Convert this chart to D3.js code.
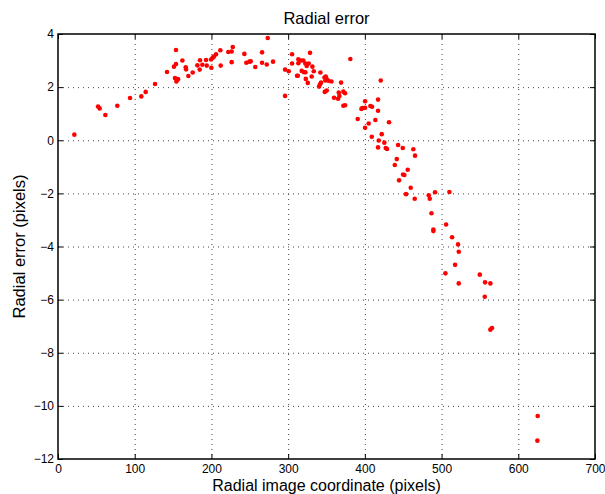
<!DOCTYPE html>
<html lang="en">
  <head>
    <meta charset="UTF-8" />
    <title>Radial error</title>
    <script src="https://d3js.org/d3.v7.min.js"></script>
    <style>
      body {
        margin: 0;
        background: #fff;
        font-family: 'Liberation Sans', Arial, Helvetica, sans-serif;
      }
      .axis text {
        font-size: 12px;
        fill: #000;
      }
      .axis line {
        stroke: #000;
      }
      .grid line {
        stroke: #444;
        stroke-width: 1;
        stroke-dasharray: 1, 4;
      }
    </style>
  </head>
  <body>
    <div id="chart"></div>
    <script>
      // radial image coordinate (pixels) of each point
      const radius = [
        21.3, 52.2, 54.3, 61.7, 77.3, 93.9, 108.6, 114.3, 126.5, 142.1,
        151.2, 153.8, 153.8, 152.5, 155.1, 154.3, 156.5, 162.1, 166.5, 166.9,
        169.9, 175.6, 181.7, 185.1, 184.7, 188.2, 193.0, 193.9, 199.5, 199.9,
        201.7, 203.4, 206.0, 211.6, 212.1, 222.0, 226.4, 227.8, 226.4, 242.9,
        245.5, 249.4, 251.2, 257.2, 266.0, 266.0, 273.4, 272.1, 280.3, 296.0,
        296.0, 300.8, 305.1, 305.1, 311.6, 312.6, 313.3, 313.3, 316.8, 319.8,
        317.7, 320.7, 322.4, 322.4, 324.2, 326.8, 328.5, 330.7, 323.0, 325.6,
        331.6, 333.4, 342.0, 342.9, 340.3, 341.6, 347.3, 349.0, 348.5, 350.3,
        352.5, 356.4, 347.7, 350.3, 359.8, 365.1, 366.8, 366.0, 369.0, 372.0,
        374.2, 372.0, 374.2, 381.1, 390.7, 396.8, 395.5, 400.3, 400.3, 400.3,
        405.0, 407.2, 409.4, 413.7, 417.2, 417.2, 420.7, 409.0, 422.0, 431.5,
        418.1, 417.2, 425.4, 427.2, 428.9, 443.3, 449.4, 463.2, 465.4, 441.6,
        439.0, 455.9, 449.8, 451.5, 444.6, 459.8, 453.7, 465.0, 483.3, 484.6,
        491.5, 510.2, 486.8, 489.3, 489.3, 505.9, 513.7, 521.5, 522.4, 517.6,
        505.0, 522.4, 549.8, 556.7, 563.6, 556.3, 563.6, 565.8, 625.3, 624.9,
      ];

      // radial error (pixels), same order
      const radialError = [
        0.21, 1.27, 1.2, 0.95, 1.3, 1.59, 1.65, 1.82, 2.12, 2.57,
        2.77, 2.87, 3.4, 2.34, 2.27, 2.21, 2.3, 3.0, 2.75, 2.67,
        2.42, 2.55, 2.82, 3.01, 2.66, 2.84, 3.02, 2.81, 3.04, 2.73,
        3.11, 3.15, 3.24, 3.39, 2.81, 3.32, 3.34, 3.51, 2.94, 3.25,
        2.92, 2.96, 2.97, 2.76, 3.31, 2.92, 3.85, 2.85, 2.96, 2.66,
        1.67, 2.6, 3.24, 2.89, 2.43, 2.43, 3.05, 2.9, 3.0, 3.0,
        2.61, 2.56, 2.56, 2.89, 2.8, 2.89, 3.29, 2.4, 2.31, 2.16,
        2.77, 2.6, 2.55, 2.17, 2.02, 2.11, 2.36, 2.4, 2.25, 2.3,
        2.24, 2.21, 1.82, 1.87, 1.6, 1.56, 1.67, 1.8, 2.17, 1.83,
        1.77, 1.3, 1.32, 3.06, 0.8, 1.21, 1.18, 1.47, 1.22, 0.47,
        0.63, 1.29, 1.26, 0.76, 1.53, 1.11, 2.25, 0.13, 0.23, 0.68,
        -0.01, -0.27, -0.09, -0.29, -0.33, -0.18, -0.29, -0.34, -0.58, -0.71,
        -0.93, -1.11, -1.29, -1.31, -1.51, -1.79, -2.03, -2.2, -2.07, -2.2,
        -1.96, -1.95, -2.75, -3.36, -3.42, -3.17, -3.65, -3.92, -4.2, -4.69,
        -5.01, -5.39, -5.06, -5.35, -5.39, -5.89, -7.13, -7.07, -10.38, -11.31,
      ];

      const xTicks = [0, 100, 200, 300, 400, 500, 600, 700];
      const yTicks = [-12, -10, -8, -6, -4, -2, 0, 2, 4];

      const width = 605,
        height = 494;
      const margin = { top: 34, right: 10, bottom: 35, left: 58 };
      const plotW = width - margin.left - margin.right,
        plotH = height - margin.top - margin.bottom;

      const x = d3.scaleLinear().domain([0, 700]).range([0, plotW]);
      const y = d3.scaleLinear().domain([-12, 4]).range([plotH, 0]);

      const svg = d3
        .select('#chart')
        .append('svg')
        .attr('width', width)
        .attr('height', height);

      const g = svg
        .append('g')
        .attr('transform', `translate(${margin.left},${margin.top})`);

      // dotted grid
      g.append('g')
        .attr('class', 'grid')
        .selectAll('line.gx')
        .data(xTicks.slice(1, -1))
        .join('line')
        .attr('x1', (d) => x(d) + 0.5)
        .attr('x2', (d) => x(d) + 0.5)
        .attr('y1', 0)
        .attr('y2', plotH);
      g.append('g')
        .attr('class', 'grid')
        .selectAll('line.gy')
        .data(yTicks.slice(1, -1))
        .join('line')
        .attr('x1', 0)
        .attr('x2', plotW)
        .attr('y1', (d) => y(d) + 0.5)
        .attr('y2', (d) => y(d) + 0.5);

      // axes with inward ticks (box style)
      const axB = g
        .append('g')
        .attr('class', 'axis')
        .attr('transform', `translate(0,${plotH})`)
        .call(d3.axisBottom(x).tickValues(xTicks).tickSize(-5).tickPadding(5));
      const axL = g
        .append('g')
        .attr('class', 'axis')
        .call(d3.axisLeft(y).tickValues(yTicks).tickSize(-5).tickPadding(4));
      const axT = g
        .append('g')
        .attr('class', 'axis')
        .call(d3.axisTop(x).tickValues(xTicks).tickSize(-5).tickFormat(''));
      const axR = g
        .append('g')
        .attr('class', 'axis')
        .attr('transform', `translate(${plotW},0)`)
        .call(d3.axisRight(y).tickValues(yTicks).tickSize(-5).tickFormat(''));
      [axB, axL, axT, axR].forEach((a) => a.select('.domain').remove());

      // frame
      g.append('rect')
        .attr('x', 0)
        .attr('y', 0)
        .attr('width', plotW)
        .attr('height', plotH)
        .attr('fill', 'none')
        .attr('stroke', '#000')
        .attr('stroke-width', 1.5);

      // points
      g.append('g')
        .selectAll('circle')
        .data(radius.map((r, i) => ({ r, e: radialError[i] })))
        .join('circle')
        .attr('cx', (d) => x(d.r))
        .attr('cy', (d) => y(d.e))
        .attr('r', 2.3)
        .attr('fill', '#ff0000');

      // title and labels
      svg
        .append('text')
        .attr('x', margin.left + plotW / 2)
        .attr('y', 24)
        .attr('text-anchor', 'middle')
        .style('font-size', '16.5px')
        .text('Radial error');
      svg
        .append('text')
        .attr('x', margin.left + plotW / 2)
        .attr('y', 490.5)
        .attr('text-anchor', 'middle')
        .style('font-size', '16px')
        .text('Radial image coordinate (pixels)');
      svg
        .append('text')
        .attr('transform', `translate(25,${margin.top + plotH / 2}) rotate(-90)`)
        .attr('text-anchor', 'middle')
        .style('font-size', '16.5px')
        .text('Radial error (pixels)');
    </script>
  </body>
</html>
